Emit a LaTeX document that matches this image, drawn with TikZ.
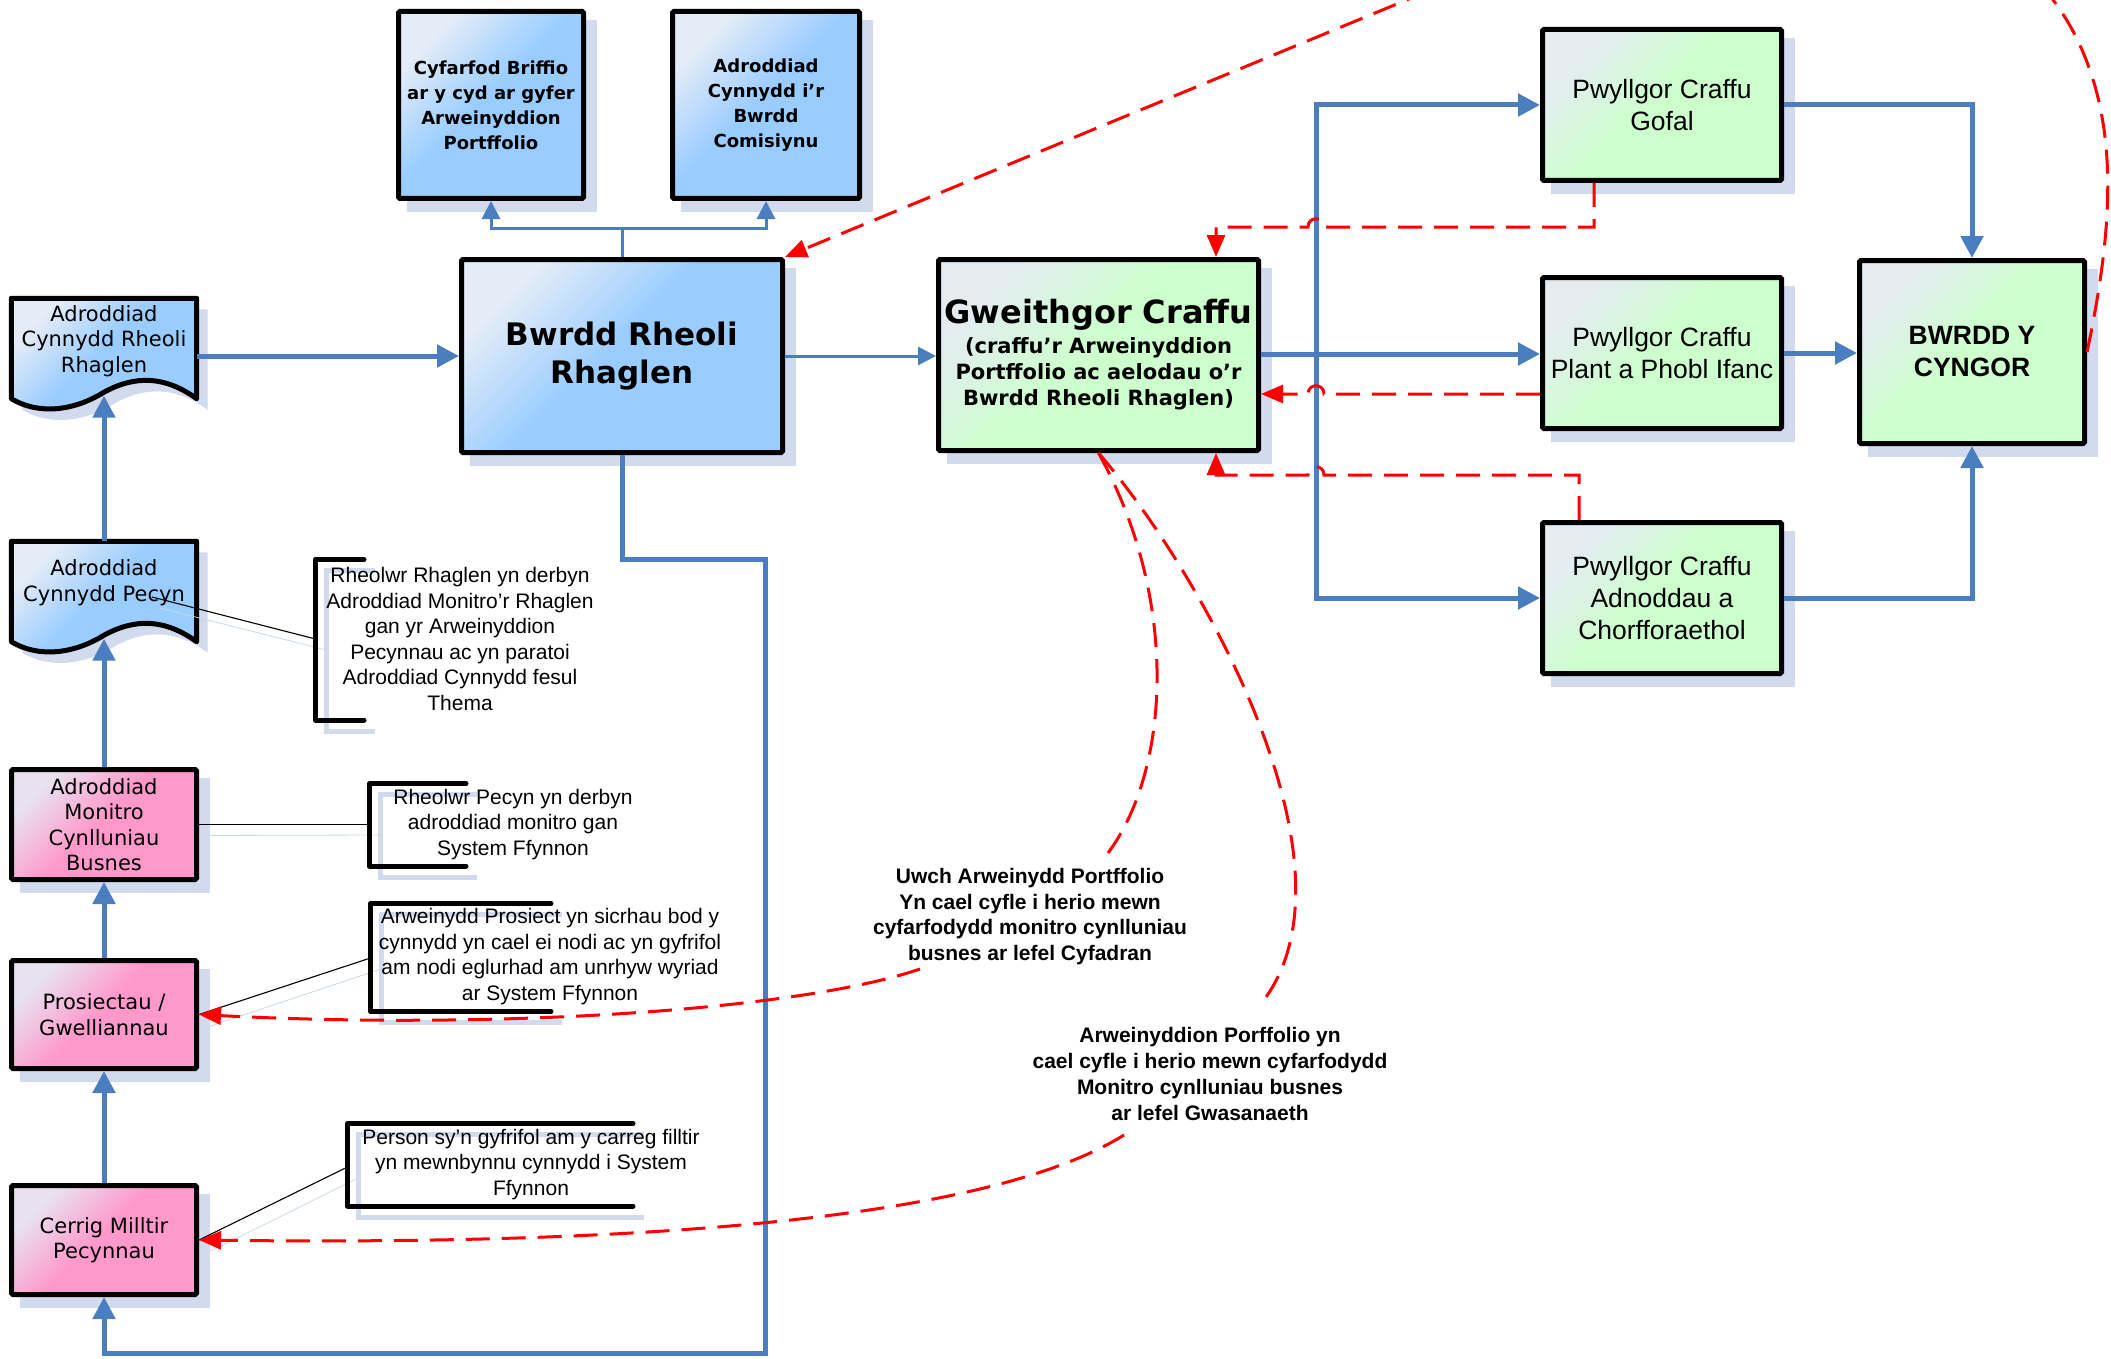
\documentclass[tikz,border=0pt]{standalone}
\usepackage{fontspec}
\setmainfont{DejaVu Sans}
\newfontfamily\arialf{Liberation Sans}
\usetikzlibrary{arrows.meta,backgrounds,calc}
\definecolor{bTL}{RGB}{228,236,247}
\definecolor{bBR}{RGB}{153,204,255}
\definecolor{gTL}{RGB}{228,236,242}
\definecolor{gBR}{RGB}{204,255,204}
\definecolor{pTL}{RGB}{232,226,240}
\definecolor{pBR}{RGB}{255,153,204}
\definecolor{lblue}{RGB}{74,126,190}
\definecolor{shadowc}{RGB}{210,218,237}
\definecolor{rred}{RGB}{255,0,0}
\pgfdeclareverticalshading{bgrad}{100bp}{color(0bp)=(bBR); color(52bp)=(bBR); color(74bp)=(bTL); color(100bp)=(bTL)}
\pgfdeclareverticalshading{ggrad}{100bp}{color(0bp)=(gBR); color(52bp)=(gBR); color(74bp)=(gTL); color(100bp)=(gTL)}
\pgfdeclareverticalshading{pgrad}{100bp}{color(0bp)=(pBR); color(52bp)=(pBR); color(74bp)=(pTL); color(100bp)=(pTL)}
\begin{document}
\begin{tikzpicture}[x=1pt,y=-1pt,
  box/.style={draw=black, line width=5pt, inner sep=0pt, align=center, rounded corners=1.5pt},
  bluebox/.style={box, shade, shading=bgrad, shading angle=45},
  greenbox/.style={box, shade, shading=ggrad, shading angle=45},
  pinkbox/.style={box, shade, shading=pgrad, shading angle=45},
  vtxt/.style={font=\fontsize{21}{25.5}\selectfont, align=center, inner sep=0pt},
  ptxt/.style={font=\arialf\fontsize{26.5}{32}\selectfont},
  ctxt/.style={font=\arialf\fontsize{21}{25.6}\selectfont, align=center, inner sep=0pt},
  lab/.style={font=\arialf\bfseries\fontsize{21}{25.7}\selectfont, align=center, inner sep=0pt},
  bthick/.style={draw=lblue, line width=5pt},
  bthin/.style={draw=lblue, line width=3pt},
  btip/.style={-{Triangle[length=22pt,width=22pt]}},
  btips/.style={-{Triangle[length=18pt,width=18pt]}},
  rdash/.style={draw=rred, line width=3pt, dash pattern=on 24pt off 12pt},
  rtip/.style={-{Triangle[length=22pt,width=18pt]}},
  brk/.style={draw=black, line width=5pt, line cap=round, line join=round},
  brkshadow/.style={draw=shadowc, line width=5pt},
  leader/.style={draw=black, line width=1.1pt},
  leadershadow/.style={draw=lblue!30, line width=0.8pt}
]
\useasboundingbox (0,0) rectangle (2111,1359);

% ---------- top boxes ----------
\node[bluebox, minimum width=185pt, minimum height=187pt, font=\bfseries\fontsize{18}{25}\selectfont] (C1) at (491,105) {Cyfarfod Briffio\\ar y cyd ar gyfer\\Arweinyddion\\Portffolio};
\node[bluebox, minimum width=187pt, minimum height=187pt, font=\bfseries\fontsize{18}{25}\selectfont] (C2) at (766,105) {Adroddiad\\Cynnydd i’r\\Bwrdd\\Comisiynu};
\node[bluebox, minimum width=321pt, minimum height=193pt, font=\bfseries\fontsize{31}{38}\selectfont] (BR) at (622,356) {Bwrdd Rheoli\\Rhaglen};

% ---------- green boxes ----------
\node[greenbox, minimum width=320pt, minimum height=191pt, font=\bfseries\fontsize{21}{26}\selectfont] (GC) at (1098.5,355)
  {\fontsize{32}{38}\selectfont Gweithgor Craffu\\[4pt](craffu’r Arweinyddion\\Portffolio ac aelodau o’r\\Bwrdd Rheoli Rhaglen)};
\node[greenbox, ptxt, minimum width=239pt, minimum height=151pt] (PG) at (1662,105) {Pwyllgor Craffu\\Gofal};
\node[greenbox, ptxt, minimum width=239pt, minimum height=151pt] (PP) at (1662,353) {Pwyllgor Craffu\\Plant a Phobl Ifanc};
\node[greenbox, ptxt, minimum width=239pt, minimum height=151pt] (PA) at (1662,598) {Pwyllgor Craffu\\Adnoddau a\\Chorfforaethol};
\node[greenbox, font=\arialf\bfseries\fontsize{26.5}{32}\selectfont, minimum width=225pt, minimum height=183pt] (BC) at (1972,352) {BWRDD Y\\CYNGOR};

% ---------- left column ----------
\node[minimum width=185pt, minimum height=100pt, inner sep=0pt] (D1) at (104,348.5) {};
\node[minimum width=185pt, minimum height=100pt, inner sep=0pt] (D2) at (104,591.5) {};
\draw[line width=5pt, line join=round, shade, shading=bgrad, shading angle=45]
  (D1.north west) -- (D1.north east) -- (D1.south east)
  .. controls +(-32,-23) and +(31,-17) .. ([yshift=6.5pt]D1.south)
  .. controls +(-29,18) and +(28.5,17) .. (D1.south west) -- cycle;
\draw[line width=5pt, line join=round, shade, shading=bgrad, shading angle=45]
  (D2.north west) -- (D2.north east) -- (D2.south east)
  .. controls +(-32,-23) and +(31,-17) .. ([yshift=6.5pt]D2.south)
  .. controls +(-29,18) and +(28.5,17) .. (D2.south west) -- cycle;
\node[vtxt] (D1t) at (104,341) {Adroddiad\\Cynnydd Rheoli\\Rhaglen};
\node[vtxt] (D2t) at (104,582.5) {Adroddiad\\Cynnydd Pecyn};

\node[pinkbox, vtxt, minimum width=185pt, minimum height=110pt] (M) at (104,824.5) {Adroddiad\\Monitro\\Cynlluniau\\Busnes};
\node[pinkbox, vtxt, minimum width=185pt, minimum height=108pt] (P) at (104,1014.5) {Prosiectau /\\Gwelliannau};
\node[pinkbox, vtxt, minimum width=185pt, minimum height=109pt] (CM) at (104,1240) {Cerrig Milltir\\Pecynnau};

% ---------- shadows ----------
\begin{scope}[on background layer]
  \foreach \n in {C1,C2,BR,GC,PG,PP,PA,BC,M,P,CM}
    \fill[shadowc] ([shift={(11pt,-11pt)}]\n.south west) rectangle ([shift={(11pt,-11pt)}]\n.north east);
  \begin{scope}[transform canvas={shift={(11pt,-11pt)}}]
  \fill[shadowc]
    (D1.north west) -- (D1.north east) -- (D1.south east)
    .. controls +(-32,-23) and +(31,-17) .. ([yshift=6.5pt]D1.south)
    .. controls +(-29,18) and +(28.5,17) .. (D1.south west) -- cycle;
  \fill[shadowc]
    (D2.north west) -- (D2.north east) -- (D2.south east)
    .. controls +(-32,-23) and +(31,-17) .. ([yshift=6.5pt]D2.south)
    .. controls +(-29,18) and +(28.5,17) .. (D2.south west) -- cycle;
  \end{scope}
\end{scope}

% ---------- callouts ----------
\draw[brkshadow] (375,570.5) -- (326.5,570.5) -- (326.5,731) -- (375,731);
\draw[brkshadow] (477,794.5) -- (380.5,794.5) -- (380.5,877) -- (477,877);
\draw[brkshadow] (562,914.5) -- (381.5,914.5) -- (381.5,1022.5) -- (562,1022.5);
\draw[brkshadow] (644,1134.5) -- (358.5,1134.5) -- (358.5,1217) -- (644,1217);
\draw[leadershadow] (326,650) -- (160,608);
\draw[leadershadow] (380,835) -- ([yshift=-11pt]M.east);
\draw[leadershadow] (381,969) -- ([xshift=10pt,yshift=-12pt]P.east);
\draw[leadershadow] (358,1178) -- ([xshift=10pt,yshift=-12pt]CM.east);

\node[ctxt] (n1) at (460,639) {Rheolwr Rhaglen yn derbyn\\Adroddiad Monitro’r Rhaglen\\gan yr Arweinyddion\\Pecynnau ac yn paratoi\\Adroddiad Cynnydd fesul\\Thema};
\node[ctxt] (n2) at (513,824.5) {Rheolwr Pecyn yn derbyn\\adroddiad monitro gan\\System Ffynnon};
\node[ctxt] (n3) at (550,956.5) {Arweinydd Prosiect yn sicrhau bod y\\cynnydd yn cael ei nodi ac yn gyfrifol\\am nodi eglurhad am unrhyw wyriad\\ar System Ffynnon};
\node[ctxt] (n4) at (531,1164.5) {Person sy’n gyfrifol am y carreg filltir\\yn mewnbynnu cynnydd i System\\Ffynnon};

\draw[brk] (364,559.5) -- (315.5,559.5) -- (315.5,720) -- (364,720);
\draw[brk] (466,783.5) -- (369.5,783.5) -- (369.5,866) -- (466,866);
\draw[brk] (551,903.5) -- (370.5,903.5) -- (370.5,1011.5) -- (551,1011.5);
\draw[brk] (633,1123.5) -- (347.5,1123.5) -- (347.5,1206) -- (633,1206);

\coordinate (k1) at (315.5,639);
\coordinate (k2) at (369.5,824.5);
\coordinate (k3) at (370.5,958);
\coordinate (k4) at (347.5,1167);
\coordinate (d2p) at (152,597);
\draw[leader] (k1) -- (d2p);
\draw[leader] (k2) -- (M.east);
\draw[leader] (k3) -- (P.east);
\draw[leader] (k4) -- (CM.east);

% ---------- blue connectors ----------
\draw[bthin] (BR.north) -- (622,228) coordinate (tj);
\draw[bthin,btips] (tj) -| (C1.south);
\draw[bthin,btips] (tj) -| (C2.south);
\draw[bthick,btip] (D1.east |- BR.west) -- (BR.west);
\draw[bthin,btips] (BR.east) -- (BR.east -| GC.west);

\draw[bthick,btip] (D2.north) -- ([yshift=3pt]D1.south);
\draw[bthick,btip] (M.north) -- ([yshift=3pt]D2.south);
\draw[bthick,btip] (P.north) -- (M.south);
\draw[bthick,btip] (CM.north) -- (P.south);
\draw[bthick,btip] (BR.south) |- (765,559) -- (765,1353) -| (CM.south);

\coordinate (bj) at (1316,354);
\draw[bthick] (GC.east |- bj) -- (bj);
\draw[bthick,btip] (bj) |- (PG.west);
\draw[bthick,btip] (bj) -- (bj -| PP.west);
\draw[bthick,btip] (bj) |- (PA.west);
\draw[bthick,btip] (PG.east) -| (BC.north);
\draw[bthick,btip] (PP.east) -- (PP.east -| BC.west);
\draw[bthick,btip] (PA.east) -| (BC.south);

% ---------- red dashed connectors ----------
\draw[rdash,rtip] ([xshift=-68pt]PG.south) |- (1324,227)
  .. controls (1324,216) and (1308,216) .. (1308,227) -| ([xshift=117.5pt]GC.north);
\coordinate (r2s) at ([yshift=-41pt]PP.west);
\draw[rdash,rtip] (r2s) -- (1324,394)
  .. controls (1324,383) and (1308,383) .. (1308,394) -- (r2s -| GC.east);
\draw[rdash,rtip] ([xshift=-83pt]PA.north) |- (1324,475)
  .. controls (1324,464) and (1308,464) .. (1308,475) -| ([xshift=117.5pt]GC.south);

\begin{scope}
  \clip (0,0) rectangle (2111,1359);
  \draw[rdash,rtip] (BC.east) .. controls (2115,220) and (2118,120) .. (2075,35)
    .. controls (2000,-110) and (1800,-160) .. (1600,-80) -- (BR.north east);
\end{scope}

\node[lab] (lab1) at (1030,916.5) {Uwch Arweinydd Portffolio\\Yn cael cyfle i herio mewn\\cyfarfodydd monitro cynlluniau\\busnes ar lefel Cyfadran};
\node[lab] (lab2) at (1210,1074) {Arweinyddion Porffolio yn\\cael cyfle i herio mewn cyfarfodydd\\Monitro cynlluniau busnes\\ar lefel Gwasanaeth};
\coordinate (a1) at (1108,853);
\coordinate (a2) at (920,969);
\coordinate (b1) at (1260,1005);
\coordinate (b2) at (1124,1135);
\draw[rdash] (GC.south) .. controls (1180,600) and (1170,770) .. (a1);
\draw[rdash,rtip] (a2) .. controls (800,1010) and (500,1030) .. (P.east);
\draw[rdash] (GC.south) .. controls (1200,570) and (1370,870) .. (b1);
\draw[rdash,rtip] (b2) .. controls (980,1225) and (600,1245) .. (CM.east);
\end{tikzpicture}
\end{document}
